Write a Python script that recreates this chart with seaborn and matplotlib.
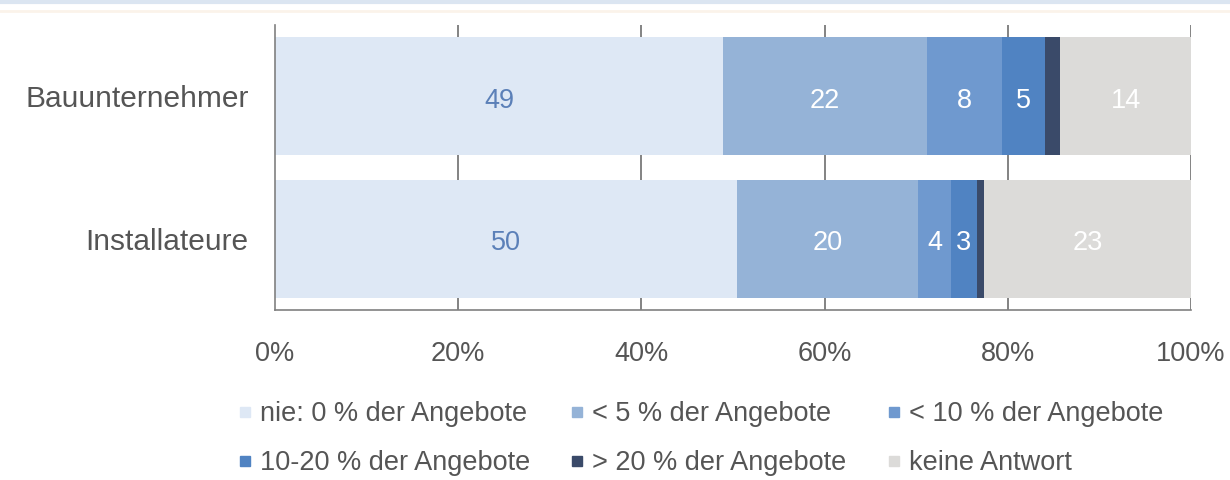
import matplotlib
matplotlib.use("Agg")
import matplotlib.pyplot as plt
from matplotlib.lines import Line2D
import numpy as np
import pandas as pd
import seaborn as sns

# Survey shares (%) per respondent group, stacked left to right
categories = ["Bauunternehmer", "Installateure"]
series_names = [
    "nie: 0 % der Angebote",
    "< 5 % der Angebote",
    "< 10 % der Angebote",
    "10-20 % der Angebote",
    "> 20 % der Angebote",
    "keine Antwort",
]
nie = [48.9, 50.4]
unter5 = [22.3, 19.8]
unter10 = [8.2, 3.6]
zehn_bis_20 = [4.7, 2.8]
ueber20 = [1.6, 0.8]
keine_antwort = [14.3, 22.6]

x_ticks = [0, 20, 40, 60, 80, 100]
x_tick_labels = ["0%", "20%", "40%", "60%", "80%", "100%"]

colors = ["#dee8f5", "#95b3d7", "#6f99cf", "#5083c2", "#3a4a69", "#dcdbd9"]
label_colors = ["#5b80b8", "white", "white", "white", None, "white"]

values = np.array([nie, unter5, unter10, zehn_bis_20, ueber20, keine_antwort])
cum = values.cumsum(axis=0)

sns.set_theme(style="white")
plt.rcParams["font.family"] = ["Liberation Sans", "DejaVu Sans"]

fig = plt.figure(figsize=(12.3, 4.8), dpi=100)
ax = fig.add_axes([275 / 1230, 1 - 310 / 480, (1191 - 275) / 1230, (310 - 25) / 480])

# Draw cumulative bars from the outermost segment inwards so each layer shows its own share
for i in reversed(range(len(series_names))):
    df = pd.DataFrame({"Gruppe": categories, "Wert": cum[i]})
    sns.barplot(data=df, x="Wert", y="Gruppe", orient="h", color=colors[i],
                saturation=1, width=0.83, ax=ax, zorder=2, linewidth=0)

# Segment value labels
for i in range(len(series_names)):
    if label_colors[i] is None:
        continue
    for j in range(len(categories)):
        left = cum[i, j] - values[i, j]
        ax.text(left + values[i, j] / 2, j + 0.03, f"{round(values[i, j]):d}",
                ha="center", va="center", fontsize=19.5, color=label_colors[i], zorder=3)

ax.set_xlim(0, 100)
ax.set_ylim(1.5, -0.5)
ax.set_xlabel("")
ax.set_ylabel("")

# Vertical gridlines behind the bars
for xv in x_ticks[1:]:
    ax.axvline(xv, color="#6e6e6e", linewidth=1.2, zorder=1)

ax.set_xticks(x_ticks, x_tick_labels)
ax.tick_params(axis="x", direction="inout", length=16, width=1.2, color="#707070",
               labelsize=19.5, labelcolor="#555555", pad=14)
ax.set_yticks([0, 1], categories)
ax.tick_params(axis="y", which="major", length=0, labelsize=21.5, labelcolor="#555555", pad=19)
ax.set_yticks([-0.5, 0.5, 1.5], minor=True)
ax.tick_params(axis="y", which="minor", direction="out", length=6, width=1.2, color="#707070")

for side in ["top", "right"]:
    ax.spines[side].set_visible(False)
for side in ["left", "bottom"]:
    ax.spines[side].set_color("#808080")
    ax.spines[side].set_linewidth(1.2)

# Legend filled row by row (matplotlib fills columns first, so reorder)
order = [0, 3, 1, 4, 2, 5]
handles = [Line2D([], [], marker="s", linestyle="", markersize=7.5, color=colors[k]) for k in order]
labels = [series_names[k] for k in order]
fig.legend(handles, labels, loc="upper left", bbox_to_anchor=(238 / 1230, 1 - 401 / 480),
           ncol=3, frameon=False, fontsize=19.5, labelcolor="#555555", handlelength=0.5,
           handletextpad=0.3, columnspacing=1.5, labelspacing=0.85, borderpad=0, borderaxespad=0)

# Thin header rule across the top edge
fig.add_artist(Line2D([0, 1], [0.996, 0.996], transform=fig.transFigure, color="#dbe5f1", linewidth=3))
fig.add_artist(Line2D([0, 1], [0.978, 0.978], transform=fig.transFigure, color="#fbf3ea", linewidth=2))

fig.savefig("out.png", dpi=100)
